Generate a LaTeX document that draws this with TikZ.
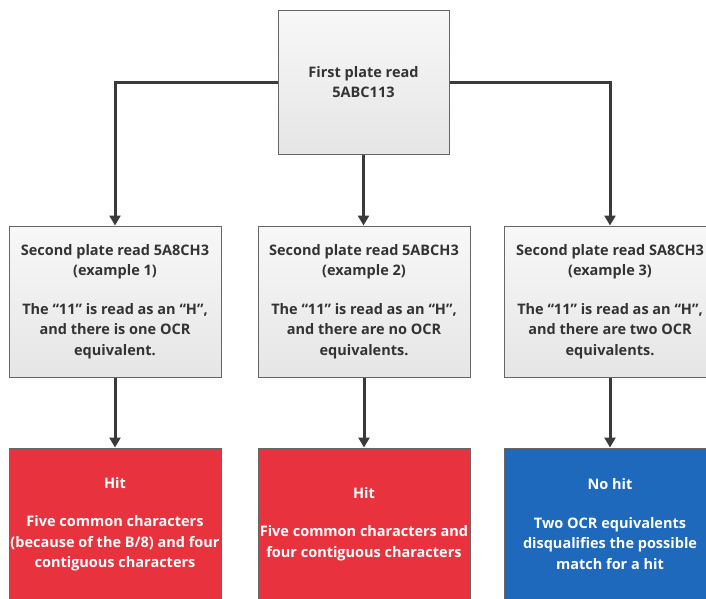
\documentclass[tikz,border=0pt]{standalone}
\usepackage{fontspec}
\setmainfont{Open Sans}
\usepackage{xcolor}
\usepackage{tikz}
\usetikzlibrary{arrows.meta,positioning,calc}

\definecolor{hitred}{HTML}{E8323D}
\definecolor{nohitblue}{HTML}{1F69BD}
\definecolor{linegray}{HTML}{3A3A3A}
\definecolor{txtgray}{HTML}{333333}

\tikzset{
  greybox/.style={draw=black!60, line width=1pt, top color=white!97!black,
    bottom color=black!10, text=txtgray, align=center, inner sep=0pt,
    font=\fontsize{14.5}{20.5}\selectfont\bfseries},
  hitbox/.style={greybox, fill=hitred, top color=hitred, bottom color=hitred, text=white},
  missbox/.style={greybox, fill=nohitblue, top color=nohitblue, bottom color=nohitblue, text=white},
  flow/.style={draw=linegray, line width=3pt, -{Triangle[length=10pt,width=11pt]}}
}

\begin{document}
\begin{tikzpicture}[x=1pt,y=-1pt]
  \useasboundingbox (0,0) rectangle (706,598);
  \clip (0,0) rectangle (706,598);
  % first read
  \node[greybox, minimum width=171pt, minimum height=144pt] (first) at (363.5,82)
    {First plate read\\5ABC113};
  % second reads
  \node[greybox, minimum width=212pt, minimum height=151pt] (ex1) at (115,301.5)
    {Second plate read 5A8CH3\\(example 1)\\[18pt]The ``11'' is read as an ``H'',\\and there is one OCR\\equivalent.};
  \node[greybox, minimum width=212pt, minimum height=151pt] (ex2) at (364,301.5)
    {Second plate read 5ABCH3\\(example 2)\\[18pt]The ``11'' is read as an ``H'',\\and there are no OCR\\equivalents.};
  \node[greybox, minimum width=212pt, minimum height=151pt] (ex3) at (610,301.5)
    {Second plate read SA8CH3\\(example 3)\\[18pt]The ``11'' is read as an ``H'',\\and there are two OCR\\equivalents.};
  % results
  \node[hitbox, minimum width=212pt, minimum height=152pt] (res1) at (115,524)
    {Hit\\[18pt]Five common characters\\(because of the B/8) and four\\contiguous characters};
  \node[hitbox, minimum width=212pt, minimum height=152pt] (res2) at (364,524)
    {Hit\\[18pt]Five common characters and\\four contiguous characters};
  \node[missbox, minimum width=212pt, minimum height=152pt] (res3) at (610,524)
    {No hit\\[18pt]Two OCR equivalents\\disqualifies the possible\\match for a hit};
  % connectors
  \draw[flow] (first.west) -| (ex1.north);
  \draw[flow] (first.south) -- (first.south |- ex2.north);
  \draw[flow] (first.east) -| (ex3.north);
  \foreach \n in {1,2,3}
    \draw[flow] (ex\n.south) -- (res\n.north);
\end{tikzpicture}
\end{document}
